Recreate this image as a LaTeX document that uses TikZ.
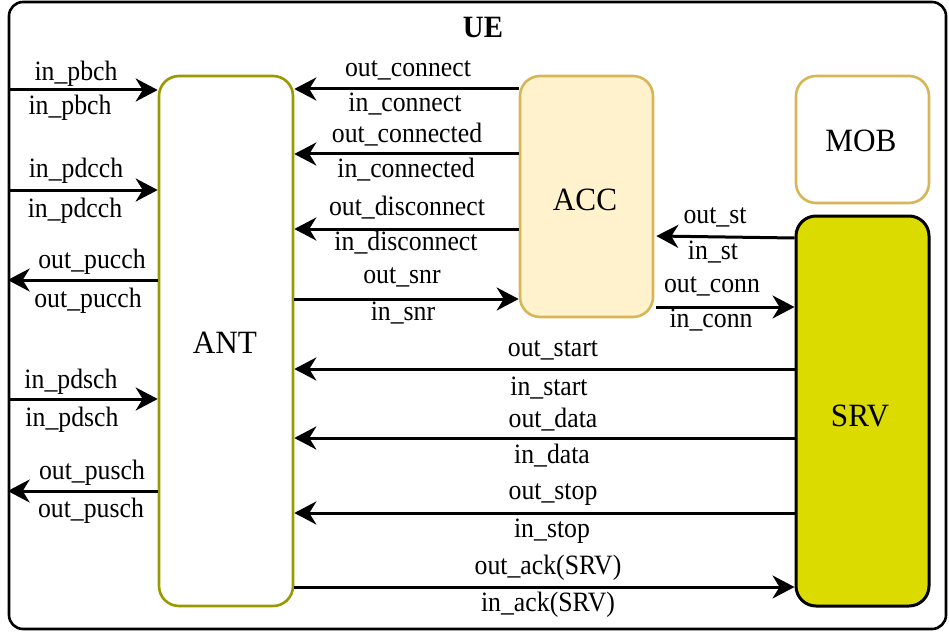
\documentclass[tikz,border=0pt]{standalone}
\usepackage{fontspec}
\setmainfont{Liberation Serif}
\newfontfamily\lblfont[FakeStretch=0.92]{Liberation Serif}
\newfontfamily\boxfont[FakeStretch=0.96]{Liberation Serif}
\newfontfamily\ttlfont[FakeStretch=0.93]{Liberation Serif}
\usetikzlibrary{arrows.meta}
\definecolor{antline}{RGB}{153,153,0}
\definecolor{accfill}{RGB}{255,242,204}
\definecolor{accline}{RGB}{214,182,86}
\definecolor{srvfill}{RGB}{219,219,0}
\begin{document}
\begin{tikzpicture}[x=1pt,y=-1pt,
  box/.style={draw, rounded corners=20pt, line width=2.6pt, inner sep=0pt},
  boxtxt/.style={inner sep=0pt, anchor=base, font=\boxfont\fontsize{32.5}{38}\selectfont},
  lbl/.style={inner sep=0pt, anchor=base, font=\lblfont\fontsize{28}{33}\selectfont},
  arr/.style={line width=3pt, -{Stealth[length=22pt,width=23pt,inset=7pt]}},
]
\useasboundingbox (0,0) rectangle (949,631);
\node[draw, line width=2.6pt, rounded corners=14pt, minimum width=937pt, minimum height=627pt, inner sep=0pt] (UE) at (477.5,315.5) {};
\node[anchor=base, inner sep=0pt, font=\ttlfont\bfseries\fontsize{31}{36}\selectfont] (title) at (483,38) {UE};

\node[box, draw=antline, fill=white, minimum width=134pt, minimum height=530pt] (ANT) at (226,341) {};
\node[boxtxt] (ANTt) at (225,353) {ANT};
\node[box, draw=accline, fill=accfill, minimum width=133pt, minimum height=241pt] (ACC) at (586.5,196.5) {};
\node[boxtxt] (ACCt) at (585,210) {ACC};
\node[box, draw=accline, fill=white, minimum width=133pt, minimum height=127pt] (MOB) at (862.5,139.5) {};
\node[boxtxt] (MOBt) at (861,152) {MOB};
\node[box, draw=black, line width=3pt, fill=srvfill, minimum width=133pt, minimum height=390pt] (SRV) at (862.5,411) {};
\node[boxtxt] (SRVt) at (860,426) {SRV};

% left side
\draw[arr] (UE.west |- 0,90) -- (ANT.west |- 0,90);
\node[lbl] (l1a) at (76,81) {in\_pbch};
\node[lbl] (l1b) at (70,115) {in\_pbch};
\draw[arr] (UE.west |- 0,190) -- (ANT.west |- 0,190);
\node[lbl] (l2a) at (76,177) {in\_pdcch};
\node[lbl] (l2b) at (75,217) {in\_pdcch};
\draw[arr] (ANT.west |- 0,280) -- (UE.west |- 0,280);
\node[lbl] (l3a) at (92,268) {out\_pucch};
\node[lbl] (l3b) at (88,307) {out\_pucch};
\draw[arr] (UE.west |- 0,399) -- (ANT.west |- 0,399);
\node[lbl] (l4a) at (71,388) {in\_pdsch};
\node[lbl] (l4b) at (72,426) {in\_pdsch};
\draw[arr] (ANT.west |- 0,491) -- (UE.west |- 0,491);
\node[lbl] (l5a) at (92,479) {out\_pusch};
\node[lbl] (l5b) at (91,517) {out\_pusch};

% ANT - ACC
\draw[arr] (ACC.west |- 0,89) -- (ANT.east |- 0,89);
\node[lbl] (m1a) at (408,77) {out\_connect};
\node[lbl] (m1b) at (405,112) {in\_connect};
\draw[arr] (ACC.west |- 0,154) -- (ANT.east |- 0,154);
\node[lbl] (m2a) at (407,143) {out\_connected};
\node[lbl] (m2b) at (406,178) {in\_connected};
\draw[arr] (ACC.west |- 0,229) -- (ANT.east |- 0,229);
\node[lbl] (m3a) at (407,215) {out\_disconnect};
\node[lbl] (m3b) at (406,250) {in\_disconnect};
\draw[arr] (ANT.east |- 0,299) -- (ACC.west |- 0,299);
\node[lbl] (m4a) at (402,283) {out\_snr};
\node[lbl] (m4b) at (403,320) {in\_snr};

% ACC - SRV
\draw[arr] (SRV.west |- 0,238) -- ([xshift=2pt]ACC.east |- 0,236);
\node[lbl] (n1a) at (715,223) {out\_st};
\node[lbl] (n1b) at (713,259) {in\_st};
\draw[arr] ([xshift=2pt]ACC.east |- 0,307) -- (SRV.west |- 0,307);
\node[lbl] (n2a) at (712,292) {out\_conn};
\node[lbl] (n2b) at (711,327) {in\_conn};

% ANT - SRV
\draw[arr] (SRV.west |- 0,369) -- (ANT.east |- 0,369);
\node[lbl] (s1a) at (553,356) {out\_start};
\node[lbl] (s1b) at (549,395) {in\_start};
\draw[arr] (SRV.west |- 0,438) -- (ANT.east |- 0,438);
\node[lbl] (s2a) at (553,427) {out\_data};
\node[lbl] (s2b) at (552,463) {in\_data};
\draw[arr] (SRV.west |- 0,513) -- (ANT.east |- 0,513);
\node[lbl] (s3a) at (553,499) {out\_stop};
\node[lbl] (s3b) at (552,537) {in\_stop};
\draw[arr] (ANT.east |- 0,587) -- (SRV.west |- 0,587);
\node[lbl] (s4a) at (548,574) {out\_ack(SRV)};
\node[lbl] (s4b) at (548,611) {in\_ack(SRV)};
\end{tikzpicture}
\end{document}
